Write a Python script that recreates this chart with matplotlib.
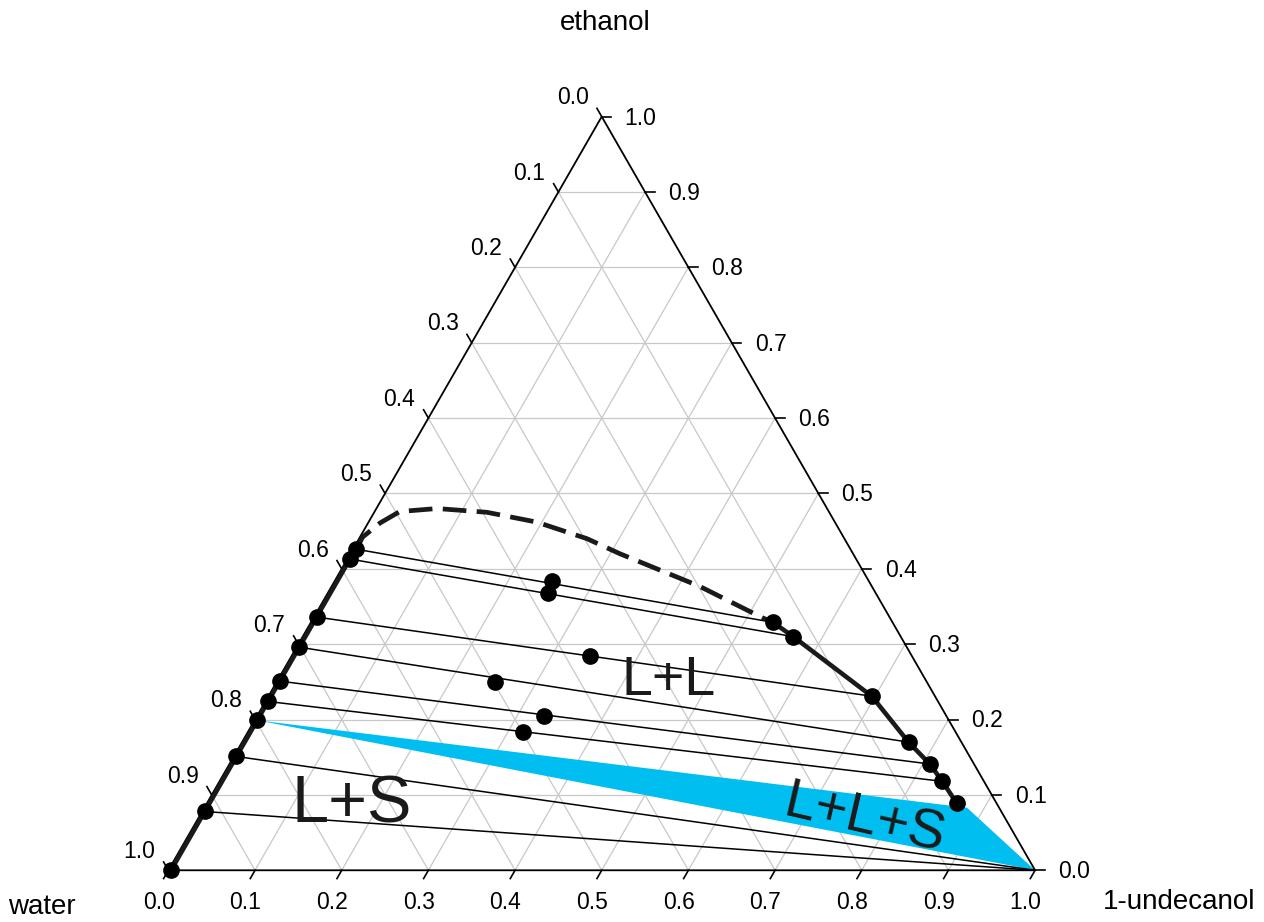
import numpy as np
import matplotlib.pyplot as plt

plt.rcParams['font.family'] = ['Liberation Sans', 'DejaVu Sans']

# binodal, water-rich side (ethanol / 1-undecanol mass fractions)
left_eth = [0.426, 0.413, 0.336, 0.296, 0.251, 0.224, 0.199, 0.151, 0.078, 0.0]
left_und = [0.004, 0.003, 0.003, 0.003, 0.003, 0.003, 0.003, 0.003, 0.003, 0.003]

# binodal, undecanol-rich side
right_eth = [0.329, 0.310, 0.231, 0.170, 0.141, 0.118, 0.089]
right_und = [0.533, 0.566, 0.696, 0.769, 0.808, 0.834, 0.865]

# overall (feed) compositions on the tie lines
feed_eth = [0.384, 0.368, 0.284, 0.250, 0.205, 0.183]
feed_und = [0.251, 0.254, 0.345, 0.252, 0.331, 0.318]

# estimated part of the binodal (dashed)
dash_eth = [0.426, 0.442, 0.461, 0.476, 0.480, 0.475, 0.462, 0.440, 0.420, 0.377, 0.335, 0.329]
dash_und = [0.004, 0.003, 0.014, 0.029, 0.070, 0.130, 0.194, 0.263, 0.311, 0.424, 0.518, 0.533]

# three phase region L+L+S (L1, L2, solid undecanol)
tri_eth = [0.199, 0.083, 0.0]
tri_und = [0.003, 0.880, 1.0]

ticks = [round(0.1 * i, 1) for i in range(11)]

h = np.sqrt(3) / 2


def xy(eth, und):
    eth = np.asarray(eth, dtype=float)
    und = np.asarray(und, dtype=float)
    return und + eth / 2, eth * h


fig = plt.figure(figsize=(12.64, 9.22), dpi=100)
ax = fig.add_axes([0.1332, 0.0561, 0.6857, 0.8174])
ax.set_xlim(0, 1)
ax.set_ylim(0, h)
ax.axis('off')

# grid
grid_kw = dict(color='#c8c8c8', lw=0.9, zorder=1)
for t in ticks[1:-1]:
    ax.plot([t / 2, 1 - t / 2], [t * h, t * h], **grid_kw)          # ethanol
    ax.plot([t, t + (1 - t) / 2], [0, (1 - t) * h], **grid_kw)      # undecanol
    ax.plot([1 - t, (1 - t) / 2], [0, (1 - t) * h], **grid_kw)      # water

# triangle
ax.plot([0, 1, 0.5, 0], [0, 0, h, 0], color='black', lw=1.3, zorder=3, clip_on=False)

# ticks and labels
tl = 0.011
lab_kw = dict(textcoords='offset points', fontsize=16.5, annotation_clip=False)
for t in ticks:
    # bottom: 1-undecanol
    ax.plot([t, t - 0.5 * tl], [0, -h * tl], color='black', lw=1.2, clip_on=False)
    ax.annotate(f'{t:.1f}', (t, 0), xytext=(-7, -23), ha='center', va='center', **lab_kw)
    # right: ethanol
    x, y = xy(t, 1 - t)
    ax.plot([x, x + tl], [y, y], color='black', lw=1.2, clip_on=False)
    ax.annotate(f'{t:.1f}', (x, y), xytext=(16.5, -1), ha='left', va='center', **lab_kw)
    # left: water
    x, y = xy(1 - t, 0)
    ax.plot([x, x - 0.5 * tl], [y, y + h * tl], color='black', lw=1.2, clip_on=False)
    ax.annotate(f'{t:.1f}', (x, y), xytext=(-9.5, 13.5), ha='right', va='center', **lab_kw)

# three phase triangle
tx, ty = xy(tri_eth, tri_und)
ax.fill(tx, ty, color='#00bff0', lw=0, zorder=2)

# tie lines L+L
for i in range(len(feed_eth)):
    x, y = xy([left_eth[i], right_eth[i]], [left_und[i], right_und[i]])
    ax.plot(x, y, color='black', lw=1.1, zorder=4)

# tie lines L+S
for i in [7, 8]:
    x, y = xy([left_eth[i], 0.0], [left_und[i], 1.0])
    ax.plot(x, y, color='black', lw=1.1, zorder=4)

# binodal curves
x, y = xy(left_eth, left_und)
ax.plot(x, y, color='#1a1a1a', lw=3.3, zorder=5, clip_on=False)
x, y = xy(right_eth, right_und)
ax.plot(x, y, color='#1a1a1a', lw=3.3, zorder=5)
x, y = xy(dash_eth, dash_und)
ax.plot(x, y, color='#1a1a1a', lw=3.4, ls=(0, (5, 2.2)), zorder=5)

# points
ms = dict(marker='o', ms=11, color='black', ls='none', zorder=6, clip_on=False)
ax.plot(*xy(left_eth, left_und), **ms)
ax.plot(*xy(right_eth, right_und), **ms)
ax.plot(*xy(feed_eth, feed_und), **ms)

# region labels
ax.text(0.5776, 0.2175, 'L+L', fontsize=40, ha='center', va='center', color='#1a1a1a', zorder=7)
ax.text(0.2118, 0.0739, 'L+S', fontsize=48, ha='center', va='center', color='#1a1a1a', zorder=7)
ax.text(0.8026, 0.0578, 'L+L+S', fontsize=40, ha='center', va='center', color='#1a1a1a',
        rotation=-13, rotation_mode='anchor', zorder=7)

# component names
fig.text(605 / 1264, 1 - 23 / 922, 'ethanol', fontsize=20, ha='center', va='center')
fig.text(42 / 1264, 1 - 907 / 922, 'water', fontsize=20, ha='center', va='center')
fig.text(1179 / 1264, 1 - 902 / 922, '1-undecanol', fontsize=20, ha='center', va='center')

fig.savefig('out.png', dpi=100)
